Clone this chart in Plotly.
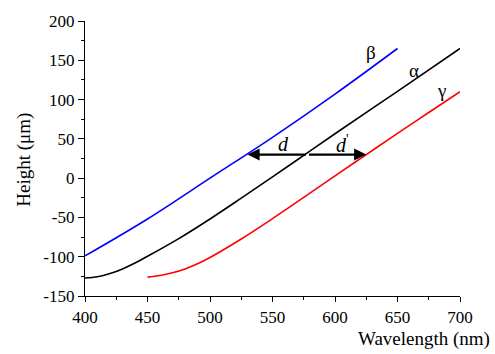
import plotly.graph_objects as go

# Data
beta_x = [400, 450, 500, 550, 600, 650]
beta_y = [-99, -52, 0, 52, 107, 165]

alpha_x = [400, 410, 420, 430, 440, 450, 475, 500, 525, 550, 575, 600, 650, 700]
alpha_y = [-127, -125.5, -121.5, -115.5, -108, -99.5, -77, -52, -25.5, 1.5, 29, 56.5, 110.5, 165]

gamma_x = [450, 460, 470, 480, 490, 500, 525, 550, 575, 600, 625, 650, 675, 700]
gamma_y = [-126, -124, -120.5, -115.5, -109, -101, -77.5, -51.5, -24.5, 3, 30, 57, 83.5, 110]

curve_labels = ["β", "α", "γ"]
label_x = [629, 663, 685]
label_y = [160, 137, 111]

arrow_y = 30
arrow_center = 578
arrow_left = 530
arrow_right = 625

font_family = "Liberation Serif, Times New Roman, serif"

fig = go.Figure()
fig.add_trace(go.Scatter(x=beta_x, y=beta_y, mode="lines", line=dict(color="#0000ff", width=1.6, shape="spline"), name="β"))
fig.add_trace(go.Scatter(x=alpha_x, y=alpha_y, mode="lines", line=dict(color="#000000", width=1.6, shape="spline"), name="α"))
fig.add_trace(go.Scatter(x=gamma_x, y=gamma_y, mode="lines", line=dict(color="#ff0000", width=1.6, shape="spline"), name="γ"))

annotations = []
for t, x, y in zip(curve_labels, label_x, label_y):
    annotations.append(dict(x=x, y=y, xref="x", yref="y", text=t, showarrow=False,
                            font=dict(family=font_family, size=19, color="black")))

# arrows
for tip in (arrow_left, arrow_right):
    annotations.append(dict(x=tip, y=arrow_y, ax=arrow_center, ay=arrow_y, xref="x", yref="y",
                            axref="x", ayref="y", text="", showarrow=True, arrowhead=2,
                            arrowsize=1.1, arrowwidth=2.2, arrowcolor="black"))

annotations.append(dict(x=559, y=44, xref="x", yref="y", text="<i>d</i>", showarrow=False,
                        font=dict(family=font_family, size=20, color="black")))
annotations.append(dict(x=606, y=44, xref="x", yref="y", text="<i>d</i><sup>'</sup>", showarrow=False,
                        font=dict(family=font_family, size=20, color="black")))

annotations.append(dict(x=1.085, y=-0.157, xref="paper", yref="paper", text="Wavelength (nm)",
                        showarrow=False, xanchor="right", yanchor="middle",
                        font=dict(family=font_family, size=19, color="black")))
annotations.append(dict(x=-0.165, y=0.496, xref="paper", yref="paper", text="Height (μm)",
                        showarrow=False, textangle=-90, xanchor="center", yanchor="middle",
                        font=dict(family=font_family, size=19, color="black")))

fig.update_layout(
    width=495, height=354,
    margin=dict(l=85, r=35, t=16, b=58),
    paper_bgcolor="white", plot_bgcolor="white",
    showlegend=False,
    font=dict(family=font_family, size=17, color="black"),
    annotations=annotations,
)
fig.update_xaxes(range=[400, 700], tickvals=[400, 450, 500, 550, 600, 650, 700],
                 showgrid=False, zeroline=False, showline=True, linecolor="black", linewidth=1.2,
                 ticks="outside", ticklen=5, tickcolor="black",
                 minor=dict(dtick=25, tick0=400, ticks="outside", ticklen=3, tickcolor="black", showgrid=False),
                 tickfont=dict(family=font_family, size=17))
fig.update_yaxes(range=[-150, 200], tickvals=[-150, -100, -50, 0, 50, 100, 150, 200],
                 ticktext=["-150", "-100", "-50", "0", "50", "100", "150", "200"],
                 showgrid=False, zeroline=False, showline=True, linecolor="black", linewidth=1.2,
                 ticks="outside", ticklen=6, tickcolor="black",
                 minor=dict(dtick=25, tick0=0, ticks="outside", ticklen=3, tickcolor="black", showgrid=False),
                 tickfont=dict(family=font_family, size=17))

fig.write_html("out.html", config={"displayModeBar": False},
               post_script="document.body.style.margin='0';document.body.style.overflow='hidden';")
